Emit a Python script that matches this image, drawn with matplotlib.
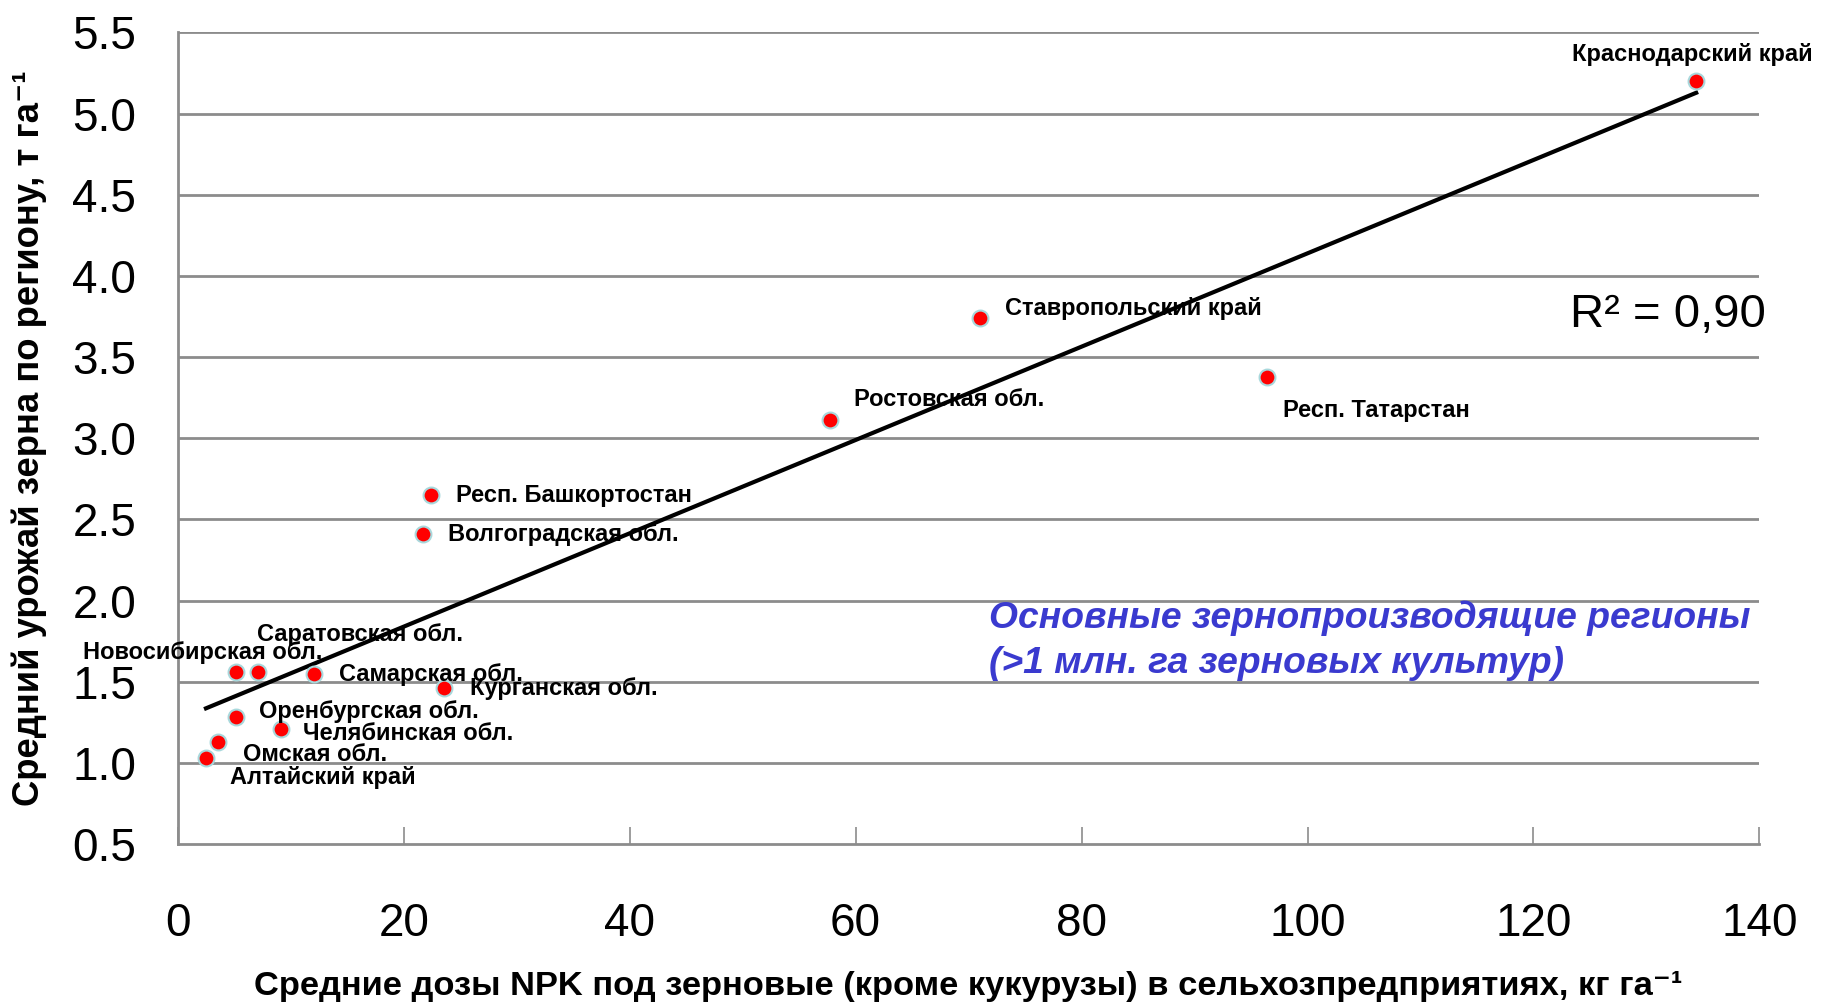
import numpy as np
import matplotlib
matplotlib.use("Agg")
import matplotlib.pyplot as plt
import matplotlib.transforms as mtransforms

plt.rcParams['font.family'] = ['Liberation Sans', 'DejaVu Sans']

regions = ["Краснодарский край", "Ставропольский край", "Респ. Татарстан", "Ростовская обл.",
           "Респ. Башкортостан", "Волгоградская обл.", "Новосибирская обл.", "Саратовская обл.",
           "Самарская обл.", "Курганская обл.", "Оренбургская обл.", "Челябинская обл.",
           "Омская обл.", "Алтайский край"]
npk = [134.4, 71.0, 96.4, 57.7, 22.4, 21.7, 5.2, 7.1, 12.1, 23.6, 5.2, 9.1, 3.6, 2.5]
yield_t = [5.20, 3.74, 3.38, 3.11, 2.65, 2.41, 1.56, 1.56, 1.55, 1.46, 1.28, 1.21, 1.13, 1.03]
label_x = [123.4, 73.2, 97.85, 59.9, 24.6, 23.9, -8.4, 7.0, 14.3, 25.9, 7.2, 11.1, 5.76, 4.6]
label_y = [5.364, 3.80, 3.17, 3.236, 2.65, 2.407, 1.679, 1.793, 1.543, 1.457, 1.314, 1.179, 1.05, 0.907]

x_ticks = [0, 20, 40, 60, 80, 100, 120, 140]
y_ticks = [0.5, 1.0, 1.5, 2.0, 2.5, 3.0, 3.5, 4.0, 4.5, 5.0, 5.5]

fig = plt.figure(figsize=(18.21, 10.06), dpi=100)
ax = fig.add_axes([0.0976, 0.161, 0.9662 - 0.0976, 0.9677 - 0.161])

ax.set_xlim(0, 140)
ax.set_ylim(0.5, 5.5)
ax.set_xticks(x_ticks)
ax.set_yticks(y_ticks)
ax.set_yticklabels([f"{v:.1f}" for v in y_ticks])

for yv in y_ticks[1:]:
    ax.axhline(yv, color='#8c8c8c', lw=2, zorder=1)

for s in ['top', 'right']:
    ax.spines[s].set_visible(False)
for s in ['left', 'bottom']:
    ax.spines[s].set_color('#8c8c8c')
    ax.spines[s].set_linewidth(2)

ax.tick_params(axis='x', direction='in', length=12, width=1.2, color='#8c8c8c',
               labelsize=33, pad=42)
ax.tick_params(axis='y', length=0, labelsize=33, pad=30)

# trend line
xa = np.array(npk)
ya = np.array(yield_t)
k, b = np.polyfit(xa, ya, 1)
xl = np.array([xa.min(), xa.max()])
ax.plot(xl, k * xl + b, color='black', lw=3, zorder=3)

ax.scatter(npk, yield_t, s=130, color='#ff0000', edgecolor='#a8d8dc', linewidth=1.5, zorder=4)

for name, lx, ly in zip(regions, label_x, label_y):
    ax.text(lx, ly, name, fontsize=17, fontweight='bold', ha='left', va='center',
            zorder=5, clip_on=False)

ax.text(123.2, 3.757, "R² = 0,90", fontsize=34, ha='left', va='center')
ax.text(71.85, 1.893, "Основные зернопроизводящие регионы", fontsize=26.8,
        fontweight='bold', style='italic', color='#3a3acf', ha='left', va='center')
ax.text(71.85, 1.614, "(>1 млн. га зерновых культур)", fontsize=26.8,
        fontweight='bold', style='italic', color='#3a3acf', ha='left', va='center')

ax.set_xlabel("Средние дозы NPK под зерновые (кроме кукурузы) в сельхозпредприятиях, кг га⁻¹",
              fontsize=24.8, fontweight='bold')
ax.xaxis.set_label_coords(0.5, 0.011,
                          transform=mtransforms.blended_transform_factory(ax.transAxes, fig.transFigure))
ax.xaxis.label.set_va('baseline')
ax.set_ylabel("Средний урожай зерна по региону, т га⁻¹",
              fontsize=26.3, fontweight='bold')
ax.yaxis.set_label_coords(-0.094, 0.5)
ax.yaxis.label.set_va('center')

fig.savefig("out.png", dpi=100)
